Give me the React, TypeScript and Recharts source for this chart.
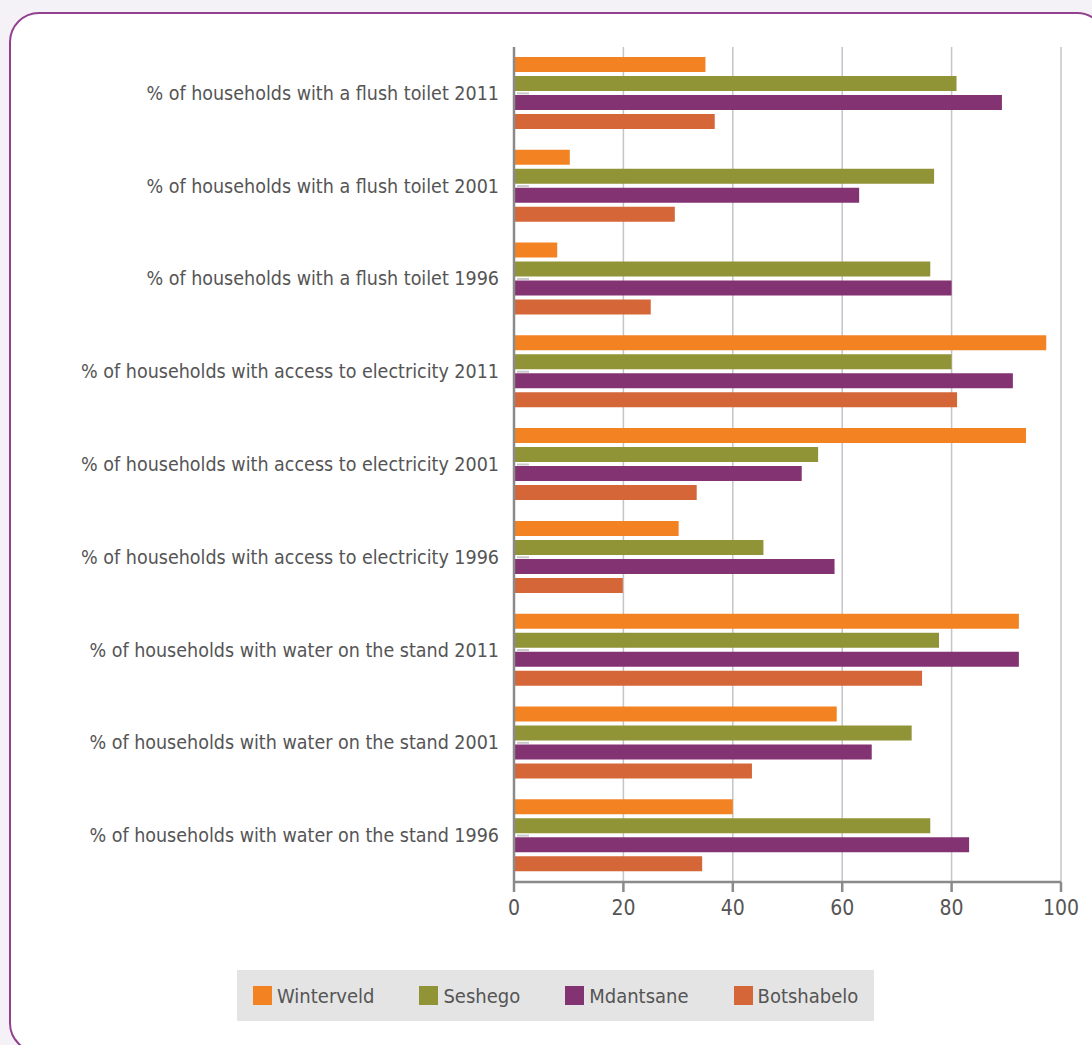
import { BarChart, Bar, XAxis, YAxis, CartesianGrid } from 'recharts';

const categories = [
  '% of households with a flush toilet 2011',
  '% of households with a flush toilet 2001',
  '% of households with a flush toilet 1996',
  '% of households with access to electricity 2011',
  '% of households with access to electricity 2001',
  '% of households with access to electricity 1996',
  '% of households with water on the stand 2011',
  '% of households with water on the stand 2001',
  '% of households with water on the stand 1996',
];

const winterveld = [35.0, 10.2, 7.9, 97.3, 93.6, 30.1, 92.3, 59.0, 40.0];
const seshego = [80.9, 76.8, 76.1, 80.0, 55.6, 45.6, 77.7, 72.7, 76.1];
const mdantsane = [89.2, 63.1, 80.0, 91.2, 52.6, 58.6, 92.3, 65.4, 83.2];
const botshabelo = [36.7, 29.4, 25.0, 81.0, 33.4, 19.9, 74.6, 43.5, 34.4];

const xTicks = [0, 20, 40, 60, 80, 100];

const series = [
  { key: 'winterveld', name: 'Winterveld', color: '#f38322' },
  { key: 'seshego', name: 'Seshego', color: '#909336' },
  { key: 'mdantsane', name: 'Mdantsane', color: '#833272' },
  { key: 'botshabelo', name: 'Botshabelo', color: '#d46637' },
];

const data = categories.map((label, i) => ({
  label,
  winterveld: winterveld[i],
  seshego: seshego[i],
  mdantsane: mdantsane[i],
  botshabelo: botshabelo[i],
}));

const FONT = '"DejaVu Sans Condensed", "Roboto", sans-serif';
const TEXT = '#555555';
const AXIS = '#8a8a8a';

// category label plus the little inward tick mark at the band centre
function CategoryTick(props: any) {
  const { x, y, payload } = props;
  return (
    <g>
      <text x={x - 7} y={y} textAnchor="end" dominantBaseline="central"
        fill={TEXT} fontSize={19.5} fontFamily={FONT}>
        {payload.value}
      </text>
      <line x1={x + 11} x2={x + 23} y1={y} y2={y} stroke="#c8c8c8" strokeWidth={2} />
    </g>
  );
}

export default function App() {
  return (
    <div style={{ position: 'fixed', left: 0, top: 0, width: 1092, height: 1045, overflow: 'hidden', background: '#f4f2f6' }}>
      <div style={{
        position: 'absolute', left: 9, top: 12, width: 1098, height: 1041,
        background: '#fff', border: '2px solid #93408f', borderRadius: 30, boxSizing: 'border-box',
      }} />
      <div style={{ position: 'absolute', left: 0, top: 0 }}>
        <BarChart width={1092} height={1045} data={data} layout="vertical"
          margin={{ top: 47, right: 31, left: 0, bottom: 123 }}
          barSize={15} barGap={4}>
          <CartesianGrid horizontal={false} stroke="#c4c4cb" strokeWidth={1.5} />
          <XAxis type="number" domain={[0, 100]} ticks={xTicks} height={40}
            axisLine={{ stroke: AXIS, strokeWidth: 2.5 }}
            tickLine={{ stroke: AXIS, strokeWidth: 2.5 }} tickSize={10} tickMargin={8}
            tick={{ fill: TEXT, fontSize: 21, fontFamily: FONT }} />
          <YAxis type="category" dataKey="label" width={514}
            axisLine={{ stroke: AXIS, strokeWidth: 2.5 }} tickLine={false}
            tick={<CategoryTick />} interval={0} />
          {series.map(s => (
            <Bar key={s.key} dataKey={s.key} name={s.name} fill={s.color} isAnimationActive={false} />
          ))}
        </BarChart>
      </div>
      <div style={{
        position: 'absolute', left: 237, top: 970, height: 51, background: '#e4e4e4',
        display: 'flex', alignItems: 'center', gap: 45, padding: '0 16px',
        fontFamily: FONT, fontSize: 20, color: TEXT,
      }}>
        {series.map(s => (
          <div key={s.key} style={{ display: 'flex', alignItems: 'center', gap: 5 }}>
            <span style={{ width: 19, height: 19, background: s.color, display: 'inline-block' }} />
            <span>{s.name}</span>
          </div>
        ))}
      </div>
    </div>
  );
}
